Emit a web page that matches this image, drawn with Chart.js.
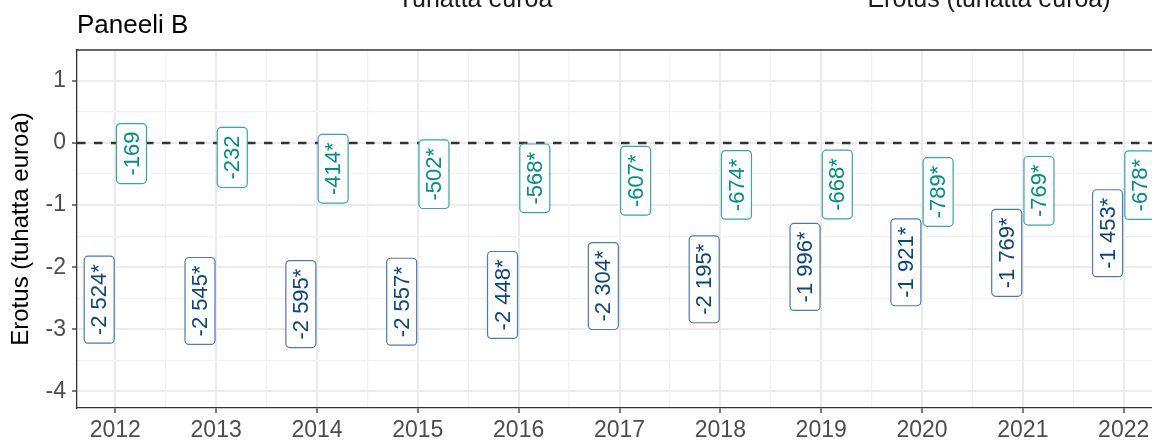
<!DOCTYPE html>
<html>
<head>
<meta charset="utf-8">
<script src="https://cdn.jsdelivr.net/npm/chart.js@4.4.1/dist/chart.umd.min.js"></script>
<style>
  html, body { margin: 0; padding: 0; background: #fff; overflow: hidden; }
  #wrap { width: 1200px; height: 441px; }
</style>
</head>
<body>
<div id="wrap"><canvas id="chart" width="1200" height="441"></canvas></div>
<script>
// Data (tuhatta euroa)
const years = [2012, 2013, 2014, 2015, 2016, 2017, 2018, 2019, 2020, 2021, 2022];
const blueValues = [-2524, -2545, -2595, -2557, -2448, -2304, -2195, -1996, -1921, -1769, -1453];
const blueSignificant = [true, true, true, true, true, true, true, true, true, true, true];
const tealValues = [-169, -232, -414, -502, -568, -607, -674, -668, -789, -769, -678];
const tealSignificant = [false, false, true, true, true, true, true, true, true, true, true];
const yTicks = [-4, -3, -2, -1, 0, 1];

const FONT = "'Liberation Sans', Arial, sans-serif";
const DODGE = 0.16;

// "-2524" -> "-2 524*"
function formatValue(v, sig) {
    const abs = Math.abs(v);
    let s = abs >= 1000 ? Math.floor(abs / 1000) + '\u00a0' + String(abs % 1000).padStart(3, '0') : String(abs);
    return (v < 0 ? '-' : '') + s + (sig ? '*' : '');
}

function buildPoints(values, sig, offset) {
    return years.map((yr, i) => ({ x: yr + offset, y: values[i] / 1000, label: formatValue(values[i], sig[i]) }));
}

// Rounded label boxes, rotated 90 degrees
const labelPlugin = {
    id: 'labels',
    afterDatasetsDraw(chart) {
        const ctx = chart.ctx;
        chart.data.datasets.forEach((ds, di) => {
            const meta = chart.getDatasetMeta(di);
            meta.data.forEach((el, i) => {
                const text = ds.data[i].label;
                ctx.save();
                ctx.font = '22px ' + FONT;
                const tw = ctx.measureText(text).width;
                const len = tw + 16;
                const thick = 30;
                ctx.translate(el.x, el.y);
                ctx.rotate(-Math.PI / 2);
                ctx.beginPath();
                ctx.roundRect(-len / 2, -thick / 2, len, thick, 4);
                ctx.fillStyle = '#ffffff';
                ctx.fill();
                ctx.lineWidth = 1.2;
                ctx.strokeStyle = ds.boxColor;
                ctx.stroke();
                ctx.fillStyle = ds.textColor;
                ctx.textAlign = 'center';
                ctx.textBaseline = 'middle';
                ctx.fillText(text, 0, 1);
                ctx.restore();
            });
        });
    }
};

// Dashed zero line and top border
const extrasPlugin = {
    id: 'extras',
    beforeDatasetsDraw(chart) {
        const ctx = chart.ctx;
        const area = chart.chartArea;
        const y0 = chart.scales.y.getPixelForValue(0);
        ctx.save();
        ctx.strokeStyle = '#333333';
        ctx.lineWidth = 2.4;
        ctx.setLineDash([8.5, 8.5]);
        ctx.beginPath();
        ctx.moveTo(area.left, y0);
        ctx.lineTo(area.right, y0);
        ctx.stroke();
        ctx.setLineDash([]);
        ctx.lineWidth = 1.3;
        ctx.beginPath();
        ctx.moveTo(area.left, area.top);
        ctx.lineTo(area.right, area.top);
        ctx.stroke();
        ctx.restore();
    },
    afterDraw(chart) {
        const ctx = chart.ctx;
        ctx.save();
        ctx.fillStyle = '#000000';
        ctx.textBaseline = 'alphabetic';
        ctx.font = '26px ' + FONT;
        ctx.textAlign = 'left';
        ctx.fillText('Paneeli B', 77, 33);
        ctx.fillStyle = '#1a1a1a';
        ctx.font = '25px ' + FONT;
        ctx.textAlign = 'center';
        ctx.fillText('Tuhatta euroa', 475, 7);
        ctx.fillText('Erotus (tuhatta euroa)', 989, 7);
        ctx.restore();
    }
};

function isWhole(v) {
    return Math.abs(v - Math.round(v)) < 1e-6;
}

const gridOptions = {
    color: c => isWhole(c.tick.value) ? '#ebebeb' : '#f1f1f1',
    lineWidth: c => isWhole(c.tick.value) ? 2 : 1.2,
    tickColor: c => isWhole(c.tick.value) ? '#333333' : 'rgba(0,0,0,0)',
    tickLength: 5,
    tickWidth: 1.3
};

const ctx = document.getElementById('chart').getContext('2d');
const chart = new Chart(ctx, {
    type: 'scatter',
    data: {
        datasets: [
            {
                label: 'Sarja 1',
                data: buildPoints(blueValues, blueSignificant, -DODGE),
                pointRadius: 0,
                textColor: '#0d4582',
                boxColor: '#4b7aad'
            },
            {
                label: 'Sarja 2',
                data: buildPoints(tealValues, tealSignificant, DODGE),
                pointRadius: 0,
                textColor: '#008e88',
                boxColor: '#35a7a1'
            }
        ]
    },
    options: {
        responsive: false,
        animation: false,
        layout: { padding: { top: 50, right: 38, bottom: 0, left: 0 } },
        plugins: {
            legend: { display: false },
            tooltip: { enabled: false }
        },
        scales: {
            x: {
                type: 'linear',
                min: 2011.62,
                max: 2022.38,
                afterBuildTicks(axis) {
                    const t = [];
                    years.forEach(yr => { t.push(yr); if (yr + 0.5 < axis.max) t.push(yr + 0.5); });
                    axis.ticks = t.map(v => ({ value: v }));
                },
                afterFit(axis) { axis.height = 33; },
                ticks: {
                    autoSkip: false,
                    maxRotation: 0,
                    padding: 4,
                    color: '#4d4d4d',
                    font: { family: FONT, size: 23 },
                    callback: v => isWhole(v) ? String(v) : ''
                },
                grid: gridOptions,
                border: { color: '#333333', width: 1.3 }
            },
            y: {
                min: -4.27,
                max: 1.5,
                afterBuildTicks(axis) {
                    const t = [];
                    yTicks.forEach(v => { t.push(v); if (v + 0.5 < axis.max) t.push(v + 0.5); });
                    axis.ticks = t.map(v => ({ value: v }));
                },
                afterFit(axis) { axis.width = 77; },
                ticks: {
                    autoSkip: false,
                    padding: 6,
                    color: '#4d4d4d',
                    font: { family: FONT, size: 23 },
                    callback: v => isWhole(v) ? String(v) : ''
                },
                grid: gridOptions,
                border: { color: '#333333', width: 1.3 },
                title: {
                    display: true,
                    text: 'Erotus (tuhatta euroa)',
                    color: '#000000',
                    font: { family: FONT, size: 24 },
                    padding: { top: 7, bottom: 0 }
                }
            }
        }
    },
    plugins: [extrasPlugin, labelPlugin]
});
</script>
</body>
</html>
